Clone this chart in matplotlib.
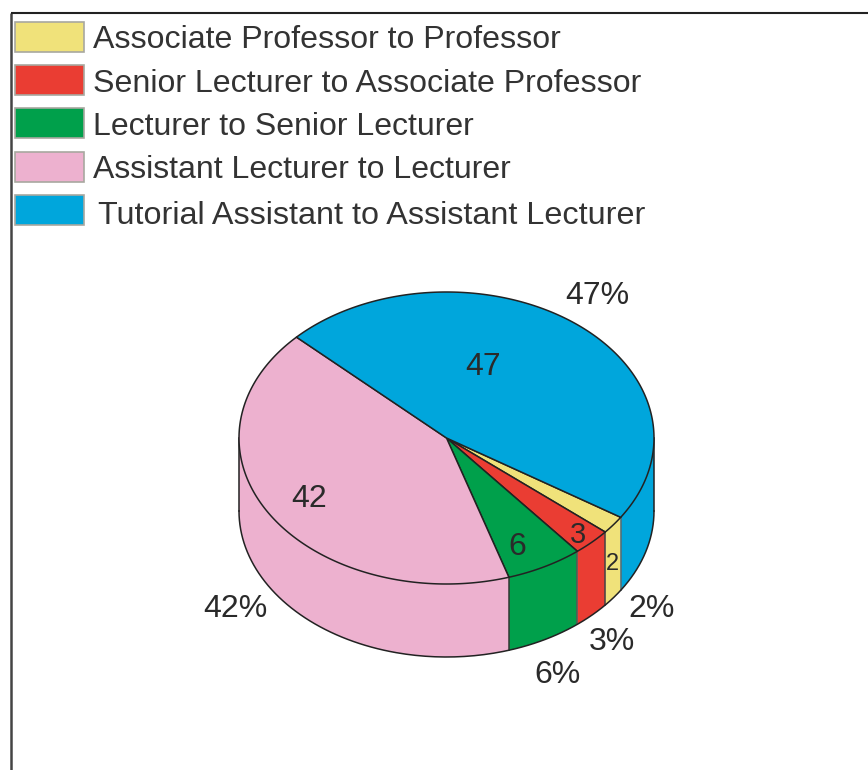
import numpy as np
import matplotlib.pyplot as plt
from matplotlib.patches import Polygon, Rectangle

plt.rcParams['font.family'] = ['Liberation Sans', 'DejaVu Sans']

# data, in legend order
categories = ['Associate Professor to Professor',
              'Senior Lecturer to Associate Professor',
              'Lecturer to Senior Lecturer',
              'Assistant Lecturer to Lecturer',
              'Tutorial Assistant to Assistant Lecturer']
values = [2, 3, 6, 42, 47]
colors = ['#F0E27A', '#EA3D33', '#00A04B', '#EDB1CF', '#00A6DC']

# pie geometry in picture pixels
cx, cy = 446.5, 438
rx, ry = 207.5, 146
depth = 73
start_angle = -32.9  # yellow slice starts here, slices go clockwise

# label positions in picture pixels, same order as values
inner_xy = [(612, 564), (578, 535), (517, 547), (309, 499), (483, 367)]
outer_xy = [(652, 609), (612, 642), (558, 675), (235, 609), (597, 296)]
inner_size = [17, 21, 23, 23, 23]
box_y = [36.5, 80, 123, 166.5, 210]
legend_y = [40, 84, 127, 170, 216]
legend_tx = [93, 93, 93, 93, 98]
legend_size = [23.1, 23.1, 23, 23, 23.3]

fig = plt.figure(figsize=(8.68, 7.70), dpi=100)
ax = fig.add_axes([0, 0, 1, 1])
ax.set_xlim(0, 868)
ax.set_ylim(770, 0)
ax.axis('off')

# frame, only top and left show
ax.plot([11, 11], [770, 13], color='#444444', lw=1.8, solid_capstyle='butt')
ax.plot([11, 868], [13, 13], color='#222222', lw=1.5, solid_capstyle='butt')


def rim(a0, a1, n=80):
    t = np.radians(np.linspace(a0, a1, n))
    return cx + rx * np.cos(t), cy - ry * np.sin(t)


def wall(a0, a1, color):
    x, y = rim(a0, a1)
    pts = np.column_stack([np.r_[x, x[::-1]], np.r_[y, y[::-1] + depth]])
    ax.add_patch(Polygon(pts, closed=True, fc=color, ec='none', zorder=2))


def wall_edge(a, color):
    xe, ye = rim(a, a, 1)
    ax.plot([xe[0], xe[0]], [ye[0], ye[0] + depth], color=color, lw=1.1, zorder=3)


# angle limits of every slice, going clockwise
sweep = np.array(values) / sum(values) * 360
ends = start_angle - np.concatenate([[0], np.cumsum(sweep)])

# side wall, only the front half shows: yellow, red, green, then pink up to the left edge
wall(ends[1], ends[0], colors[0])
wall(ends[2], ends[1], colors[1])
wall(ends[3], ends[2], colors[2])
wall(-180, ends[3], colors[3])
wall(ends[0], 0, colors[4])  # blue, from its end on to the right edge
wall_edge(ends[0], '#5A6A70')
wall_edge(ends[1], '#444444')
wall_edge(ends[2], '#555555')
wall_edge(ends[3], '#333333')

# outline of the wall
x, y = rim(-180, 0, 200)
ax.plot(x, y + depth, color='#222222', lw=1.1, zorder=4)
ax.plot([cx - rx, cx - rx], [cy, cy + depth], color='#222222', lw=1.1, zorder=4)
ax.plot([cx + rx, cx + rx], [cy, cy + depth], color='#222222', lw=1.1, zorder=4)

# top face
for i in range(len(values)):
    x, y = rim(ends[i], ends[i + 1], 200)
    pts = np.column_stack([np.r_[cx, x], np.r_[cy, y]])
    ax.add_patch(Polygon(pts, closed=True, fc=colors[i], ec='#222222', lw=1.1,
                         joinstyle='round', zorder=5))

# labels on the pie and around it
for i in range(len(values)):
    ax.text(inner_xy[i][0], inner_xy[i][1], str(values[i]), fontsize=inner_size[i],
            color='#2A2A2A', ha='center', va='center', zorder=6)
    ax.text(outer_xy[i][0], outer_xy[i][1], '%d%%' % values[i], fontsize=23,
            color='#2A2A2A', ha='center', va='center', zorder=6)

# legend drawn by hand, boxes at the left, text right of them
for i in range(len(categories)):
    ax.add_patch(Rectangle((14.5, box_y[i] - 15), 69, 30, fc=colors[i],
                           ec='#A8A8A0', lw=1.2, zorder=3))
    ax.text(legend_tx[i], legend_y[i], categories[i], fontsize=legend_size[i],
            color='#333333', ha='left', va='center', zorder=3)

fig.savefig('out.png', dpi=100)
